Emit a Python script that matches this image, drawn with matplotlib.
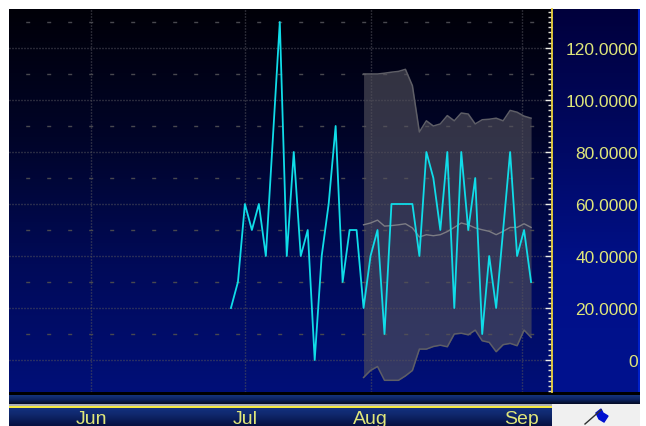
import numpy as np
import matplotlib
matplotlib.use("Agg")
import matplotlib.pyplot as plt
from matplotlib.colors import LinearSegmentedColormap
from matplotlib.patches import Polygon
from matplotlib.ticker import MultipleLocator

W, H = 646, 427
plt.rcParams['font.family'] = ['Liberation Sans', 'DejaVu Sans']

# Trading-day index: 0 is the first point of the series
close_values = [20, 30, 60, 50, 60, 40, 85, 130, 40, 80, 40, 50, 0, 40, 60, 90, 30, 50, 50, 20,
                40, 50, 10, 60, 60, 60, 60, 40, 80, 70, 50, 80, 20, 80, 50, 70, 10, 40, 20, 50,
                80, 40, 50, 30]
band_start = 19
band_upper = [110, 110, 110, 110.3, 110.7, 111, 111.8, 105.5, 87.7, 92, 90, 90.8, 94, 92, 95, 94.6,
              90.8, 92.4, 92.6, 93, 92, 96, 95.3, 93.8, 93]
band_mid = [52, 52.7, 53.8, 51.5, 51.7, 52, 52.4, 50.8, 47.3, 48.2, 47.8, 48.2, 49.4, 51, 52.7, 52,
            50.8, 50.1, 49.5, 48.2, 49.5, 51, 51, 52.4, 51]
band_lower = [-6.7, -4, -2.5, -7.8, -7.8, -7.8, -6.1, -4, 4.2, 4.2, 5.2, 5.7, 5.1, 10, 10.3, 9.7,
              11.5, 7.4, 6.8, 3.2, 5.9, 6.4, 5.5, 11.5, 8.7]
month_pos = [-20, 2, 20, 41.7]
month_labels = ['Jun', 'Jul', 'Aug', 'Sep']
y_ticks = [0, 20, 40, 60, 80, 100, 120]
y_labels = ['0', '20.0000', '40.0000', '60.0000', '80.0000', '100.0000', '120.0000']

YEL = '#dfe67a'
PX = 0.72  # points per pixel at dpi 100

def axpx(x0, y0, x1, y1, **kw):
    return fig.add_axes([x0 / W, 1 - y1 / H, (x1 - x0) / W, (y1 - y0) / H], **kw)

def vgrad(a, colors):
    cm = LinearSegmentedColormap.from_list('g', colors)
    a.imshow(np.linspace(0, 1, 256)[:, None], aspect='auto', cmap=cm,
             extent=[0, 1, 0, 1], transform=a.transAxes, zorder=0, interpolation='bilinear')
    a.set_xticks([]); a.set_yticks([])
    for s in a.spines.values():
        s.set_visible(False)

fig = plt.figure(figsize=(W / 100, H / 100), dpi=100, facecolor='white')

# scale panel background
sc = axpx(552, 10, 640, 393)
vgrad(sc, ['#00003c', '#000860', '#001088', '#00128e'])
sc.axvline(0.99, color='#0020c8', lw=1.5)

# plot background
bg = axpx(9, 10, 552, 393)
vgrad(bg, ['#000008', '#000428', '#000a58', '#000f78'])

# black separator
sep = axpx(9, 393, 640, 396)
sep.set_facecolor('#000000')
sep.set_xticks([]); sep.set_yticks([])
for s in sep.spines.values():
    s.set_visible(False)

# plot
ax = axpx(9, 10, 552, 393)
ax.patch.set_alpha(0)
ax.set_xlim(-31.8, 46)
ax.set_ylim(-12.3, 135)
x = np.arange(len(close_values))
bx = np.arange(band_start, band_start + len(band_upper))

ax.yaxis.tick_right()
ax.set_yticks(y_ticks)
ax.set_yticklabels(y_labels, color=YEL, fontsize=12.5, ha='right')
ax.yaxis.set_minor_locator(MultipleLocator(2))
ax.tick_params(axis='y', which='major', length=7 * PX, width=1, color='#f0f0e8',
               pad=(638 - 552) * PX, direction='in')
ax.tick_params(axis='y', which='minor', length=4.5 * PX, width=1, color='#e0e0d8', direction='in')
ax.set_xticks(month_pos)
ax.set_xticklabels([])
ax.tick_params(axis='x', length=0)
for s in ['top', 'left', 'bottom']:
    ax.spines[s].set_visible(False)
ax.spines['right'].set_color('#e8d040')
ax.spines['right'].set_linewidth(1.3)

ax.set_axisbelow(True)
ax.grid(True, which='major', color='#50505a', lw=1, ls=(0, (0.72, 1.44)))
ax.grid(False, which='minor')
for v in [10, 30, 50, 70, 90, 110, 130]:
    ax.axhline(v, color='#48484f', lw=1, ls=(3.1, (2.88, 12.24)), zorder=1)

ax.fill_between(bx, band_lower, band_upper, color='#54525c', alpha=0.62, lw=0, zorder=2)
ax.plot(bx, band_upper, color='#5e5e66', lw=1.1, zorder=3)
ax.plot(bx, band_lower, color='#5e5e66', lw=1.1, zorder=3)
ax.plot(bx, band_mid, color='#7c7c84', lw=1.0, zorder=3)
ax.plot(x, close_values, color='#10dce8', lw=1.3, zorder=4)

# strip under plot
strip = axpx(9, 396, 640, 405)
vgrad(strip, ['#16357f', '#0c2260', '#030a22'])

# separator lines above date bar
rule = axpx(9, 405, 552, 409)
rule.set_xlim(0, 1); rule.set_ylim(409, 405)
rule.set_facecolor('#a8acb8')
rule.set_xticks([]); rule.set_yticks([])
for s in rule.spines.values():
    s.set_visible(False)
rule.axhline(408, color='#f4e840', lw=1.5)

# date bar
bar = axpx(9, 409, 552, 427)
vgrad(bar, ['#12307e', '#10296e', '#0a1c58', '#061040'])
bar.set_xlim(ax.get_xlim())
bar.set_ylim(427, 409)
for p, l in zip(month_pos, month_labels):
    bar.text(p, 419.5, l, color=YEL, fontsize=14, ha='center', va='center')

# white box with flag icon
box = axpx(552, 405, 640, 427)
box.set_xlim(552, 640); box.set_ylim(427, 405)
box.set_facecolor('#f0f0f0')
box.set_xticks([]); box.set_yticks([])
for s in box.spines.values():
    s.set_visible(False)
box.plot([585, 601], [425, 411], color='#303030', lw=1)
box.add_patch(Polygon([[596, 414], [601, 410], [603, 414], [608, 417], [604, 423], [599, 420]], color='#0010d0'))

fig.savefig('out.png', dpi=100, facecolor='white')
